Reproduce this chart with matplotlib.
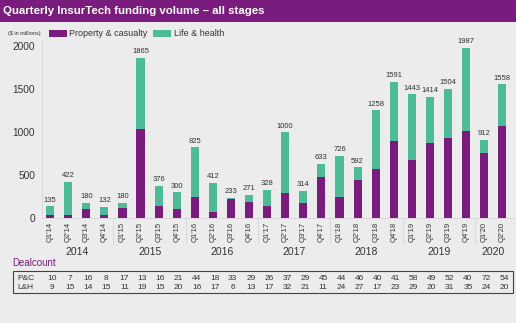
import matplotlib
matplotlib.use("Agg")
import matplotlib.pyplot as plt
import matplotlib.transforms as mtransforms
from matplotlib.patches import Rectangle

quarters = ["Q1'14", "Q2'14", "Q3'14", "Q4'14", "Q1'15", "Q2'15", "Q3'15", "Q4'15",
            "Q1'16", "Q2'16", "Q3'16", "Q4'16", "Q1'17", "Q2'17", "Q3'17", "Q4'17",
            "Q1'18", "Q2'18", "Q3'18", "Q4'18", "Q1'19", "Q2'19", "Q3'19", "Q4'19",
            "Q1'20", "Q2'20"]
years = ["2014", "2015", "2016", "2017", "2018", "2019", "2020"]
totals = [135, 422, 180, 132, 180, 1865, 376, 300, 825, 412, 233, 271, 328, 1000,
          314, 633, 726, 592, 1258, 1591, 1443, 1414, 1504, 1987, 912, 1558]
pc_volume = [40, 40, 100, 40, 112, 1040, 136, 105, 245, 66, 226, 183, 144, 288,
             171, 474, 245, 439, 567, 894, 672, 878, 936, 1018, 754, 1072]
lh_volume = [t - p for t, p in zip(totals, pc_volume)]
pc_deals = [10, 7, 16, 8, 17, 13, 16, 21, 44, 18, 33, 29, 26, 37, 29, 45, 44, 46,
            40, 41, 58, 49, 52, 40, 72, 54]
lh_deals = [9, 15, 14, 15, 11, 19, 15, 20, 16, 17, 6, 13, 17, 32, 21, 11, 24, 27,
            17, 23, 29, 20, 31, 35, 24, 20]

PURPLE = "#7A1C7D"
GREEN = "#4DBA98"
BG = "#ECECEC"
TXT = "#333333"

plt.rcParams['font.family'] = ['Liberation Sans', 'DejaVu Sans']

W, H = 516, 323
fig = plt.figure(figsize=(W / 100, H / 100), dpi=100, facecolor=BG)

# title banner
fig.patches.append(Rectangle((0, 1 - 22 / H), 1, 22 / H, transform=fig.transFigure,
                             facecolor=PURPLE, edgecolor="none"))
fig.text(3 / W, 1 - 11 / H, "Quarterly InsurTech funding volume \u2013 all stages",
         color="white", fontsize=8.2, fontweight="bold", va="center", ha="left")

ax = fig.add_axes([42 / W, (H - 218) / H, (514 - 42) / W, (218 - 40) / H])
ax.set_facecolor(BG)
x = list(range(len(quarters)))
ax.bar(x, pc_volume, width=0.45, color=PURPLE, label="Property & casualty")
ax.bar(x, lh_volume, width=0.45, bottom=pc_volume, color=GREEN, label="Life & health")
for xi, t in zip(x, totals):
    ax.text(xi, t + 30, str(t), ha="center", va="bottom", fontsize=5.5,
            color=TXT, clip_on=False)

ax.set_xlim(-0.45, 25.65)
ax.set_ylim(0, 2075)
ax.set_yticks([0, 500, 1000, 1500, 2000])
ax.tick_params(axis="y", length=0, labelsize=7.3, labelcolor=TXT, pad=5)
ax.set_xticks(x)
ax.set_xticklabels(quarters, rotation=90, fontsize=5.5, color=TXT)
ax.tick_params(axis="x", length=0, pad=3)
for s in ["top", "right"]:
    ax.spines[s].set_visible(False)
ax.spines["left"].set_color("#D6D6D6")
ax.spines["bottom"].set_color("#D6D6D6")
ax.spines["left"].set_linewidth(0.6)
ax.spines["bottom"].set_linewidth(0.6)

# year labels and separators
blend = mtransforms.blended_transform_factory(ax.transData, fig.transFigure)
year_start = [0, 4, 8, 12, 16, 20, 24]
year_len = [4, 4, 4, 4, 4, 4, 2]
for yr, st, n in zip(years, year_start, year_len):
    ax.text(st + (n - 1) / 2, 1 - 252 / H, yr, transform=blend, ha="center",
            va="center", fontsize=7.5, color=TXT)
    if st > 0:
        ax.plot([st - 0.5, st - 0.5], [1 - 218 / H, 1 - 244 / H], transform=blend,
                color="#D6D6D6", lw=0.6, clip_on=False)

# legend
fig.text(8 / W, 1 - 34 / H, "($ in millions)", fontsize=4, color=TXT, va="center")
fig.legend(loc="center left", bbox_to_anchor=(45 / W, 1 - 34 / H), ncol=2,
           frameon=False, fontsize=6.5, handlelength=2.0, handleheight=0.8,
           handletextpad=0.3, columnspacing=0.6, labelcolor=TXT, borderaxespad=0)

# deal count table
fig.text(12 / W, 1 - 263 / H, "Dealcount", fontsize=7, color=PURPLE, va="center")
fig.patches.append(Rectangle((13 / W, 1 - 293 / H), (513 - 13) / W, 22 / H,
                             transform=fig.transFigure, facecolor="none",
                             edgecolor=PURPLE, lw=0.8))
fig.text(17 / W, 1 - 278 / H, "P&C", fontsize=6, color=TXT, va="center")
fig.text(17 / W, 1 - 287.5 / H, "L&H", fontsize=6, color=TXT, va="center")
for xi, p, l in zip(x, pc_deals, lh_deals):
    ax.text(xi + 0.1, 1 - 278 / H, str(p), transform=blend, ha="center", va="center",
            fontsize=6, color=TXT)
    ax.text(xi + 0.1, 1 - 287.5 / H, str(l), transform=blend, ha="center", va="center",
            fontsize=6, color=TXT)

fig.savefig("out.png", dpi=100, facecolor=BG)
